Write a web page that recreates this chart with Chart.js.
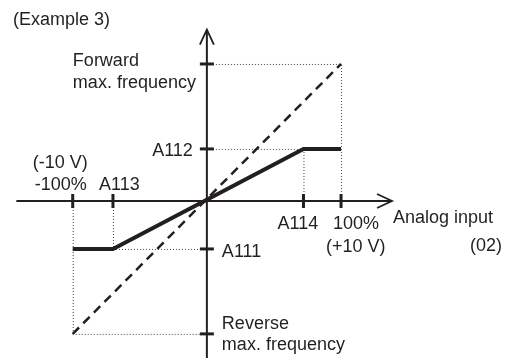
<!DOCTYPE html>
<html>
<head>
<meta charset="utf-8">
<script src="https://cdn.jsdelivr.net/npm/chart.js@4/dist/chart.umd.min.js"></script>
<style>
html,body{margin:0;padding:0;background:#fff;}
#wrap{width:509px;height:358px;position:relative;}
</style>
</head>
<body>
<div id="wrap"><canvas id="c" width="509" height="358"></canvas></div>
<script>
// ---- data (percent of input / percent of max frequency) ----
const title = '(Example 3)';
const xTickValues = [-100, -70, 72, 100];          // -100%, A113, A114, 100%
const xTickLabels = ['-100%', 'A113', 'A114', '100%'];
const xVoltLabels = ['(-10 V)', '(+10 V)'];
const yTickValues = [100, 38, -35, -97];           // Forward max, A112, A111, Reverse max
const yTickLabels = [['Forward', 'max. frequency'], ['A112'], ['A111'], ['Reverse', 'max. frequency']];
const xAxisTitle = ['Analog input', '(02)'];
const outputX = [-100, -70, 72, 100];
const outputY = [-35, -35, 38, 38];
const refX = [-100, 100];
const refY = [-97, 100];

const INK = '#231f20';
const FONT = '18px "Liberation Sans", Arial, Helvetica, sans-serif';

const toPts = (xs, ys) => xs.map((x, i) => ({x: x, y: ys[i]}));

const diagram = {
  id: 'diagram',
  beforeDatasetsDraw(chart) {
    const ctx = chart.ctx, xs = chart.scales.x, ys = chart.scales.y;
    const px = v => xs.getPixelForValue(v), py = v => ys.getPixelForValue(v);
    const X0 = px(0), Y0 = py(0);
    ctx.save();
    // dotted guides
    ctx.strokeStyle = '#444'; ctx.lineWidth = 1; ctx.setLineDash([1, 2]);
    const seg = (a, b, c, d) => { ctx.beginPath(); ctx.moveTo(a, b); ctx.lineTo(c, d); ctx.stroke(); };
    // forward max
    seg(X0, py(yTickValues[0]) + 0.5, px(xTickValues[3]), py(yTickValues[0]) + 0.5);
    seg(px(xTickValues[3]) + 0.5, Y0, px(xTickValues[3]) + 0.5, py(yTickValues[0]));
    // A112 / A114
    seg(X0, py(outputY[2]) + 0.5, px(outputX[2]), py(outputY[2]) + 0.5);
    seg(px(outputX[2]) + 0.5, Y0, px(outputX[2]) + 0.5, py(outputY[2]));
    // reverse max
    seg(px(xTickValues[0]), py(yTickValues[3]) + 0.5, X0, py(yTickValues[3]) + 0.5);
    seg(px(xTickValues[0]) + 0.5, Y0, px(xTickValues[0]) + 0.5, py(yTickValues[3]));
    // A111 / A113
    seg(px(outputX[1]), py(outputY[1]) + 0.5, X0, py(outputY[1]) + 0.5);
    seg(px(outputX[1]) + 0.5, Y0, px(outputX[1]) + 0.5, py(outputY[1]));
    ctx.setLineDash([]);

    // axes
    ctx.strokeStyle = INK; ctx.lineWidth = 2;
    const xL = px(-142), xR = px(138), yT = py(125), yB = chart.chartArea.bottom;
    seg(xL, Y0, xR, Y0);
    seg(X0, yB, X0, yT);
    // arrow heads
    ctx.lineWidth = 1.8;
    ctx.beginPath(); ctx.moveTo(xR - 15, Y0 - 7); ctx.lineTo(xR, Y0); ctx.lineTo(xR - 15, Y0 + 7); ctx.stroke();
    ctx.beginPath(); ctx.moveTo(X0 - 7, yT + 15); ctx.lineTo(X0, yT); ctx.lineTo(X0 + 7, yT + 15); ctx.stroke();
    // tick marks
    ctx.lineWidth = 3;
    xTickValues.forEach(v => seg(px(v), Y0 - 7, px(v), Y0 + 7));
    yTickValues.forEach(v => seg(X0 - 7, py(v), X0 + 7, py(v)));

    // texts
    ctx.fillStyle = INK; ctx.font = FONT; ctx.textBaseline = 'alphabetic'; ctx.textAlign = 'left';
    ctx.fillText(title, 13, 25);
    // x tick labels
    const xOff = [[-38, -11], [-14, -11], [-26, 28], [-8, 28]];
    xTickValues.forEach((v, i) => ctx.fillText(xTickLabels[i], px(v) + xOff[i][0], Y0 + xOff[i][1]));
    ctx.fillText(xVoltLabels[0], px(xTickValues[0]) - 40, Y0 - 33);
    ctx.fillText(xVoltLabels[1], px(xTickValues[3]) - 15, Y0 + 51);
    ctx.fillText(xAxisTitle[0], xR + 1, Y0 + 22);
    ctx.textAlign = 'right';
    ctx.fillText(xAxisTitle[1], 502, Y0 + 50);
    // y tick labels
    ctx.textAlign = 'left';
    ctx.fillText(yTickLabels[0][0], X0 - 134, py(yTickValues[0]) + 2);
    ctx.fillText(yTickLabels[0][1], X0 - 134, py(yTickValues[0]) + 24);
    ctx.textAlign = 'right';
    ctx.fillText(yTickLabels[1][0], X0 - 14, py(yTickValues[1]) + 7);
    ctx.textAlign = 'left';
    ctx.fillText(yTickLabels[2][0], X0 + 15, py(yTickValues[2]) + 8);
    ctx.fillText(yTickLabels[3][0], X0 + 15, py(yTickValues[3]) - 5);
    ctx.fillText(yTickLabels[3][1], X0 + 15, py(yTickValues[3]) + 16);
    ctx.restore();
  }
};

new Chart(document.getElementById('c'), {
  type: 'scatter',
  data: {
    datasets: [
      {label: 'reference', data: toPts(refX, refY), showLine: true, borderColor: INK,
       borderWidth: 2.5, borderDash: [9, 6], pointRadius: 0, fill: false},
      {label: 'output', data: toPts(outputX, outputY), showLine: true, borderColor: INK,
       borderWidth: 4, pointRadius: 0, fill: false, borderCapStyle: 'butt', borderJoinStyle: 'miter'}
    ]
  },
  options: {
    responsive: false, animation: false, events: [],
    layout: {padding: 0},
    plugins: {legend: {display: false}, tooltip: {enabled: false}},
    scales: {
      x: {type: 'linear', display: false, min: -154.2, max: 225.2},
      y: {type: 'linear', display: false, min: -114.6, max: 146.7}
    }
  },
  plugins: [diagram]
});
</script>
</body>
</html>
